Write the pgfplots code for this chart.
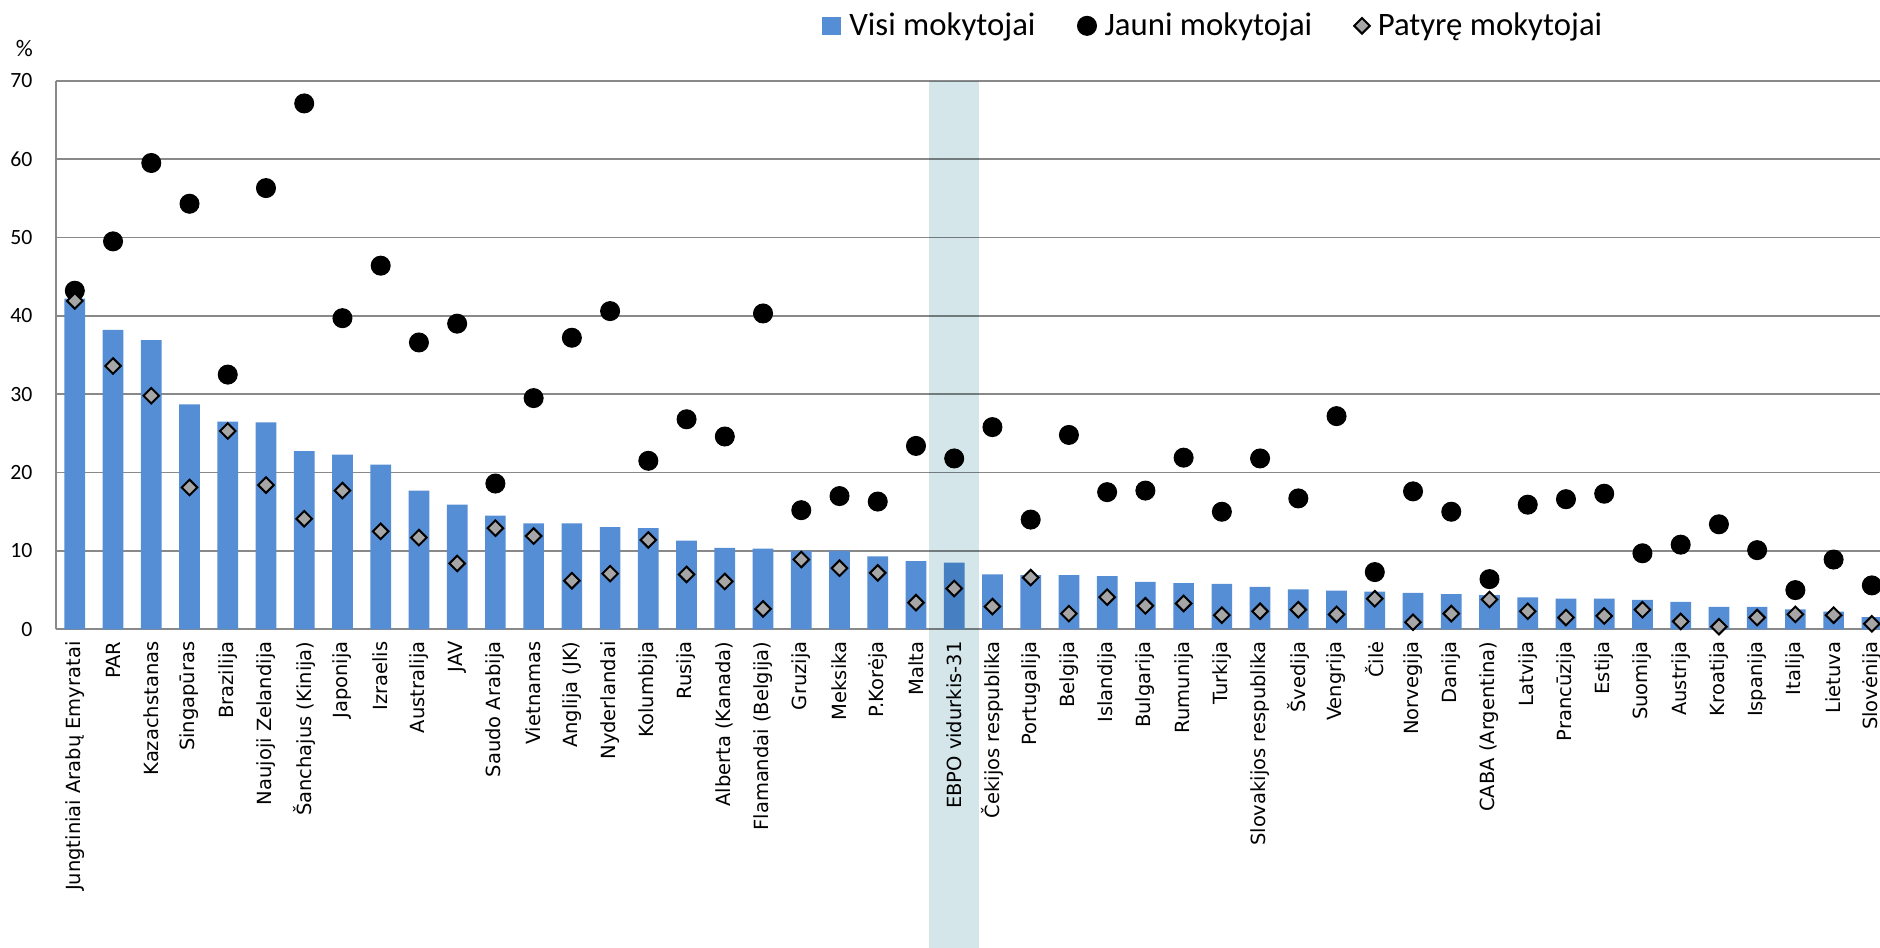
\documentclass[border=0pt]{standalone}
\usepackage{fontspec}
\usepackage{pgfplots}
\usepackage{pgfplotstable}
\pgfplotsset{compat=1.18}
\newfontfamily\carlito{Carlito}
\newfontfamily\dejavu{DejaVu Sans}
\definecolor{barblue}{HTML}{558ED5}
\definecolor{gridgray}{HTML}{898989}
\definecolor{bandcol}{HTML}{D4E6EA}
\definecolor{diagray}{HTML}{A6A6A6}

\pgfplotsset{
  barlegend/.style={legend image code/.code={\fill[barblue] (0pt,-3.65pt) rectangle (7.6pt,3.65pt);}},
  circlegend/.style={legend image code/.code={\draw[mark repeat=2,mark phase=2,##1] plot coordinates {(0pt,0pt) (3.8pt,0pt) (7.6pt,0pt)};}},
  dialegend/.style={legend image code/.code={\draw[mark repeat=2,mark phase=2,##1] plot coordinates {(0pt,0pt) (3.6pt,0pt) (7.2pt,0pt)};}},
}

\pgfplotstableread{
i all young exp
1 42.2 43.2 41.9
2 38.2 49.5 33.6
3 36.9 59.5 29.8
4 28.7 54.3 18.1
5 26.5 32.5 25.3
6 26.4 56.3 18.4
7 22.75 67.1 14.1
8 22.3 39.7 17.7
9 21.0 46.4 12.5
10 17.7 36.6 11.7
11 15.9 39.0 8.4
12 14.5 18.6 12.9
13 13.5 29.5 11.9
14 13.5 37.2 6.2
15 13.05 40.6 7.1
16 12.9 21.5 11.4
17 11.3 26.8 7.0
18 10.4 24.6 6.1
19 10.3 40.3 2.6
20 10.0 15.2 8.9
21 10.0 17.0 7.8
22 9.3 16.3 7.2
23 8.7 23.4 3.4
24 8.5 21.8 5.2
25 7.0 25.8 2.9
26 6.9 14.0 6.6
27 6.9 24.8 2.0
28 6.8 17.5 4.1
29 6.06 17.7 3.0
30 5.9 21.9 3.3
31 5.8 15.0 1.8
32 5.4 21.8 2.3
33 5.1 16.7 2.5
34 4.95 27.2 1.9
35 4.8 7.3 3.9
36 4.66 17.6 0.9
37 4.5 15.0 2.0
38 4.36 6.4 3.8
39 4.07 15.9 2.3
40 3.9 16.6 1.5
41 3.9 17.3 1.7
42 3.77 9.7 2.5
43 3.5 10.8 1.0
44 2.85 13.4 0.33
45 2.85 10.1 1.5
46 2.55 5.0 1.9
47 2.25 8.9 1.8
48 1.55 5.6 0.7
}\data

\begin{document}
\begin{tikzpicture}
\begin{axis}[
  at={(0,0)}, anchor=south west,
  scale only axis, width=734.1pt, height=219.44pt,
  xmin=0.5, xmax=48.5, ymin=0, ymax=70,
  clip=false,
  xtick={1,...,48},
  xticklabels={Jungtiniai Arabų Emyratai, PAR, Kazachstanas, Singapūras, Brazilija, Naujoji Zelandija, Šanchajus (Kinija), Japonija, Izraelis, Australija, JAV, Saudo Arabija, Vietnamas, Anglija (JK), Nyderlandai, Kolumbija, Rusija, Alberta (Kanada), Flamandai (Belgija), Gruzija, Meksika, P.Korėja, Malta, EBPO vidurkis-31, Čekijos respublika, Portugalija, Belgija, Islandija, Bulgarija, Rumunija, Turkija, Slovakijos respublika, Švedija, Vengrija, Čilė, Norvegija, Danija, CABA (Argentina), Latvija, Prancūzija, Estija, Suomija, Austrija, Kroatija, Ispanija, Italija, Lietuva, Slovėnija},
  ytick={0,10,...,70},
  major tick length=0pt,
  ymajorgrids, grid style={gridgray, line width=0.7pt},
  axis x line*=bottom, axis y line*=left,
  axis line style={gridgray, line width=0.7pt, -},
  /pgf/number format/assume math mode=true,
  yticklabel style={font=\carlito\fontsize{8.7}{10}\selectfont, anchor=east, inner sep=0pt, xshift=-9.1pt},
  xticklabel style={font=\dejavu\fontsize{7.8}{9}\selectfont, rotate=90, anchor=east, inner xsep=4.7pt, inner ysep=0pt},
  ylabel={\%},
  ylabel style={rotate=-90, at={(axis description cs:-0.0171,1.0587)}, anchor=center, font=\carlito\fontsize{9.5}{11}\selectfont},
  legend columns=3,
  legend style={at={(axis description cs:0.4175,1.1)}, anchor=west, draw=none, fill=none, inner sep=0pt,
    font=\carlito\fontsize{13.1}{15}\selectfont, nodes={inner sep=0pt},
    /tikz/every odd column/.append style={column sep=3.2pt},
    /tikz/every even column/.append style={column sep=16.8pt}},
]
\addplot[ybar, bar width=8.28pt, fill=barblue, draw=none, barlegend]
  table[x=i, y=all]{\data};
\addlegendentry{Visi mokytojai}
\addplot[only marks, mark=*, mark size=3.8pt, mark options={fill=black, draw=black}, circlegend]
  table[x=i, y=young]{\data};
\addlegendentry{Jauni mokytojai}
\addplot[only marks, mark=square*, mark size=2.2pt, mark options={rotate=45, fill=diagray, draw=black, line width=0.8pt}, dialegend]
  table[x=i, y=exp]{\data};
\addlegendentry{Patyrę mokytojai}
\fill[bandcol, blend mode=multiply] (axis cs:23.345,70) rectangle (axis cs:24.655,-42);
\end{axis}
\pgfresetboundingbox
\path[use as bounding box] (-22.28pt,-127.48pt) rectangle (729.72pt,251.72pt);
\end{tikzpicture}
\end{document}
